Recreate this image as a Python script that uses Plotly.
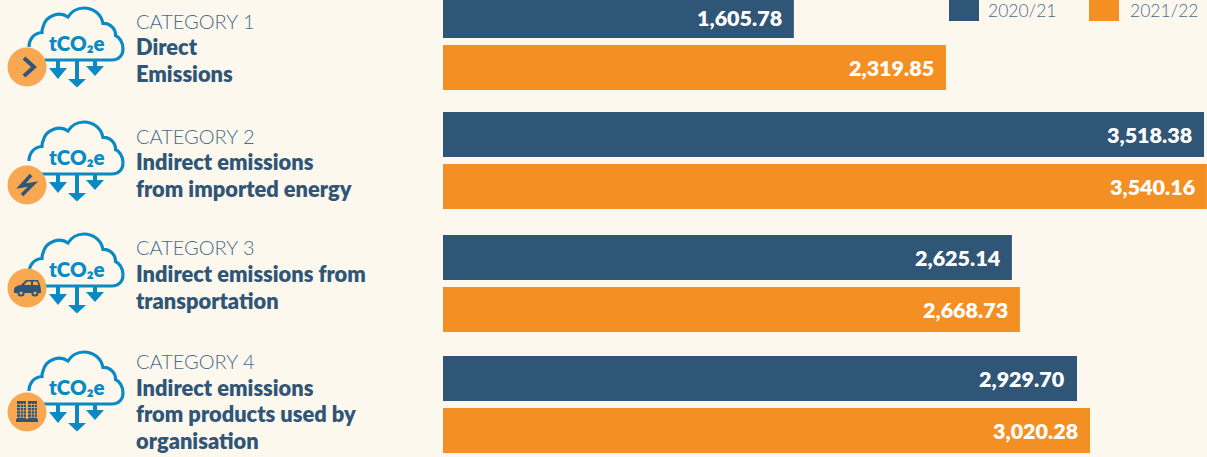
import plotly.graph_objects as go

# Data ---------------------------------------------------------------------
categories = ["CATEGORY 1", "CATEGORY 2", "CATEGORY 3", "CATEGORY 4"]
descriptions = [
    ["Direct", "Emissions"],
    ["Indirect emissions", "from imported energy"],
    ["Indirect emissions from", "transportation"],
    ["Indirect emissions", "from products used by", "organisation"],
]
series_names = ["2020/21", "2021/22"]
# Printed figures
labels_2020 = ["1,605.78", "3,518.38", "2,625.14", "2,929.70"]
labels_2021 = ["2,319.85", "3,540.16", "2,668.73", "3,020.28"]
# Bar lengths as drawn in the picture (the source graphic's bars are not
# exactly proportional to its printed figures, so they are read separately;
# the longest orange bar runs off the right edge of the picture).
values_2020 = [1622, 3518, 2630, 2931]
values_2021 = [2325, 3531.5, 2667, 2991]

# Layout constants ---------------------------------------------------------
W, H = 1207, 457
NAVY, ORANGE, BLUE, PEACH, BG = "#2f5577", "#f49023", "#0a8ac4", "#f9a852", "#fdf8ee"
LIGHT = "#456b8d"
FONT = "Lato"
row_centre = [41.5, 160.5, 283.5, 404.5]
PX_PER_UNIT = 761 / 3518
cloud_dy = [0, 114, 226, 344]
circle_y = [67, 185, 288, 412]
cat_y = [21, 136, 247, 361]
desc_y = [[46.5, 73.5], [161.5, 188.5], [273.5, 300.5], [387.5, 413.5, 440.5]]


def px(x):
    return x / W


def py(y):
    return 1 - y / H


def path(cmds):
    out = []
    for c, nums in cmds:
        pts = [f"{px(nums[i]):.5f},{py(nums[i + 1]):.5f}" for i in range(0, len(nums), 2)]
        out.append(c + " " + " ".join(pts))
    return " ".join(out)


def polygon(points, fill):
    return dict(type="path", xref="paper", yref="paper", layer="above", fillcolor=fill,
                line=dict(width=0),
                path=path([("M", list(points[0]))] + [("L", list(p)) for p in points[1:]]) + " Z")


def stroke(points, color, w):
    return dict(type="path", xref="paper", yref="paper", layer="above",
                line=dict(color=color, width=w),
                path=path([("M", list(points[0]))] + [("L", list(p)) for p in points[1:]]))


def cloud(dy):
    y = lambda v: v + dy
    cmds = [
        ("M", [40, y(60)]),
        ("L", [112, y(60)]),
        ("C", [119, y(60), 123, y(55), 123, y(49)]),
        ("C", [123, y(42), 119, y(37), 115.5, y(35.5)]),
        ("C", [116, y(29), 110, y(23), 103, y(23.5)]),
        ("C", [101, y(13), 92, y(8), 84, y(8)]),
        ("C", [77, y(8), 71, y(12), 68, y(17)]),
        ("C", [60, y(11), 46, y(15), 43, y(27)]),
        ("C", [42, y(29), 42, y(31), 42, y(32.5)]),
        ("C", [34, y(33), 29, y(39), 29, y(47)]),
    ]
    return dict(type="path", xref="paper", yref="paper", layer="above",
                line=dict(color=BLUE, width=3.2), path=path(cmds))


def arrow(cx, top, head_y, tip, half, dy):
    return polygon([
        (cx - 2, top + dy), (cx + 2, top + dy), (cx + 2, head_y + dy),
        (cx + half, head_y + dy), (cx, tip + dy), (cx - half, head_y + dy),
        (cx - 2, head_y + dy)], BLUE)


def circle(cx, cy, r, fill):
    return dict(type="circle", xref="paper", yref="paper", layer="above",
                x0=px(cx - r), x1=px(cx + r), y0=py(cy + r), y1=py(cy - r),
                fillcolor=fill, line=dict(width=0))


def rect_px(x0, y0, x1, y1, fill, layer="above"):
    return dict(type="rect", xref="paper", yref="paper", layer=layer,
                x0=px(x0), x1=px(x1), y0=py(y1), y1=py(y0),
                fillcolor=fill, line=dict(width=0))


def glyph(i, cy):
    cx = 27
    if i == 0:  # chevron
        return [stroke([(cx - 3, cy - 9), (cx + 7, cy), (cx - 3, cy + 9)], NAVY, 4)]
    if i == 1:  # lightning bolt
        return [stroke([(cx + 4, cy - 10), (cx - 6, cy + 1), (cx + 6, cy - 1), (cx - 5, cy + 10)], NAVY, 3.6)]
    if i == 2:  # car
        body = [("M", [14, cy + 5]), ("L", [14, cy + 1]),
                ("C", [15, cy - 2, 19, cy - 3, 21, cy - 3]),
                ("L", [26, cy - 8]), ("L", [38, cy - 8]),
                ("C", [40, cy - 4, 41, cy - 1, 41, cy + 5])]
        return [
            dict(type="path", xref="paper", yref="paper", layer="above", fillcolor=NAVY,
                 line=dict(width=0), path=path(body) + " Z"),
            polygon([(24, cy - 3), (27, cy - 6.5), (31, cy - 6.5), (31, cy - 3)], PEACH),
            polygon([(33, cy - 3), (33, cy - 6.5), (37, cy - 6.5), (38.5, cy - 3)], PEACH),
            circle(21, cy + 5, 3.6, NAVY), circle(21, cy + 5, 1.6, PEACH),
            circle(35, cy + 5, 3.6, NAVY), circle(35, cy + 5, 1.6, PEACH),
        ]
    # buildings
    out = [rect_px(17, cy - 11, 26, cy + 9, NAVY), rect_px(28, cy - 11, 37, cy + 9, NAVY),
           rect_px(16, cy + 7, 38, cy + 10, NAVY)]
    for k in range(5):
        yy = cy - 8 + k * 3.2
        out.append(rect_px(17, yy, 26, yy + 0.8, PEACH))
        out.append(rect_px(28, yy, 37, yy + 0.8, PEACH))
    for xx in (20, 23, 31, 34):
        out.append(rect_px(xx, cy - 9, xx + 0.7, cy + 6, PEACH))
    return out


# Figure -------------------------------------------------------------------
fig = go.Figure()
for name, vals, colour, offs in [
    (series_names[0], values_2020, NAVY, -48.5),
    (series_names[1], values_2021, ORANGE, 3.5),
]:
    fig.add_trace(go.Bar(
        x=vals, y=row_centre, orientation="h", name=name, width=45, offset=offs,
        marker=dict(color=colour, line=dict(width=0)), showlegend=False,
        customdata=categories, hovertemplate="%{customdata}: %{x}<extra>" + name + "</extra>",
    ))

annotations = []
shapes = []


def text(x, y, s, size, color, family=FONT, weight="normal", anchor="left"):
    annotations.append(dict(
        x=px(x), y=py(y), xref="paper", yref="paper", text=s, showarrow=False,
        xanchor=anchor, yanchor="middle", align=anchor, borderpad=0, borderwidth=0,
        font=dict(family=family, size=size, color=color, weight=weight)))


for i, rc in enumerate(row_centre):
    for vals, labs, centre in [(values_2020, labels_2020, rc - 26), (values_2021, labels_2021, rc + 26)]:
        annotations.append(dict(
            x=vals[i], y=centre + 2 * (centre < 20), xref="x", yref="y", text=labs[i],
            showarrow=False, xanchor="right", yanchor="middle", xshift=-10,
            font=dict(family="Lato", size=21.5, color="white", weight=800)))
    text(136, cat_y[i], categories[i], 20, LIGHT, weight=300)
    for line, yy in zip(descriptions[i], desc_y[i]):
        text(136, yy, line, 21.8, NAVY, weight=800)
    dy = cloud_dy[i]
    shapes.append(cloud(dy))
    shapes.append(arrow(58, 60, 68, 79, 9, dy))
    shapes.append(arrow(77, 60, 79, 87.5, 9, dy))
    shapes.append(arrow(95, 60, 66, 76, 9, dy))
    text(77, 43 + dy, "tCO₂e", 20.5, BLUE, family="Lato", weight=800, anchor="center")
    shapes.append(circle(27, circle_y[i], 19.5, PEACH))
    shapes.extend(glyph(i, circle_y[i]))

shapes.append(rect_px(949, 0, 979, 21, NAVY))
shapes.append(rect_px(1089, 0, 1119, 21, ORANGE))
text(988.5, 10, series_names[0], 17.5, LIGHT, weight=300)
text(1129.5, 10, series_names[1], 17.5, LIGHT, weight=300)

fig.update_layout(
    width=W, height=H, margin=dict(l=0, r=0, t=0, b=0),
    paper_bgcolor=BG, plot_bgcolor=BG, barmode="overlay",
    xaxis=dict(domain=[443 / W, 1], range=[0, (W - 443) / PX_PER_UNIT], visible=False, fixedrange=True),
    yaxis=dict(range=[H, 0], visible=False, fixedrange=True),
    annotations=annotations, shapes=shapes,
)
fig.write_html("out.html", config=dict(displayModeBar=False),
               post_script="document.body.style.margin='0';document.body.style.overflow='hidden';")
